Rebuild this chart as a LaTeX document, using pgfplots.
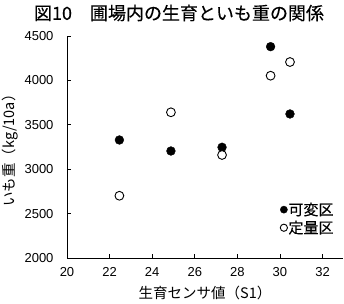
\documentclass[border=0pt]{standalone}
\usepackage{fontspec}
\setmainfont{Liberation Sans}
\newfontfamily\jp{Noto Sans CJK JP}
\newfontfamily\jpb[FakeBold=0.3]{Noto Sans CJK JP}
\usepackage{pgfplots}
\pgfplotsset{compat=1.18}
\pgfplotsset{dotlegend/.style={legend image code/.code={\draw[##1, mark size=3.6pt] plot coordinates {(0pt,0pt)};}}}
\begin{document}
\begin{tikzpicture}
\useasboundingbox (-67pt,-45pt) rectangle (277pt,258pt);
\begin{axis}[
  at={(0,0)}, anchor=south west,
  scale only axis, width=276pt, height=222pt,
  xmin=20, xmax=32.96, ymin=2000, ymax=4500,
  axis x line*=bottom, axis y line*=left,
  axis line style={-, line width=0.8pt},
  tick align=inside, major tick length=4pt,
  tick style={line width=0.8pt, black},
  xtick={20,22,...,32}, ytick={2000,2500,...,4500},
  /pgf/number format/assume math mode=true,
  /pgf/number format/1000 sep={},
  tick label style={font=\fontsize{13}{14}\selectfont},
  yticklabel style={xshift=-10pt},
  xticklabel style={yshift=-6pt},
  xlabel={\jp 生育センサ値（S1）},
  xlabel style={font=\fontsize{14.5}{15}\selectfont, at={(0.5,0)}, anchor=center, yshift=-35pt},
  ylabel={\jp いも重（kg/10a）},
  ylabel style={font=\fontsize{14.5}{15}\selectfont, at={(0,0.5)}, anchor=center, yshift=57pt},
  legend style={draw=none, fill=none, at={(0.772,0.255)}, anchor=north west,
    font=\jpb\fontsize{15}{16}\selectfont, row sep=2pt, inner sep=0pt,
    nodes={inner xsep=1pt, inner ysep=1pt}},
  legend cell align=left,
]
\addplot[only marks, mark=*, mark size=4.4pt, draw=black, fill=black, dotlegend]
  coordinates {(22.46,3329) (24.88,3205) (27.28,3247) (29.56,4380) (30.47,3622)};
\addlegendentry{可変区}
\addplot[only marks, mark=*, mark size=4.4pt, draw=black, fill=white, line width=0.9pt, dotlegend]
  coordinates {(22.46,2701) (24.88,3641) (27.28,3160) (29.56,4053) (30.47,4207)};
\addlegendentry{定量区}
\end{axis}
\node[font=\jpb\fontsize{18}{19}\selectfont, anchor=center] at (112pt,245pt) {図10\hspace{1em}圃場内の生育といも重の関係};
\end{tikzpicture}
\end{document}
